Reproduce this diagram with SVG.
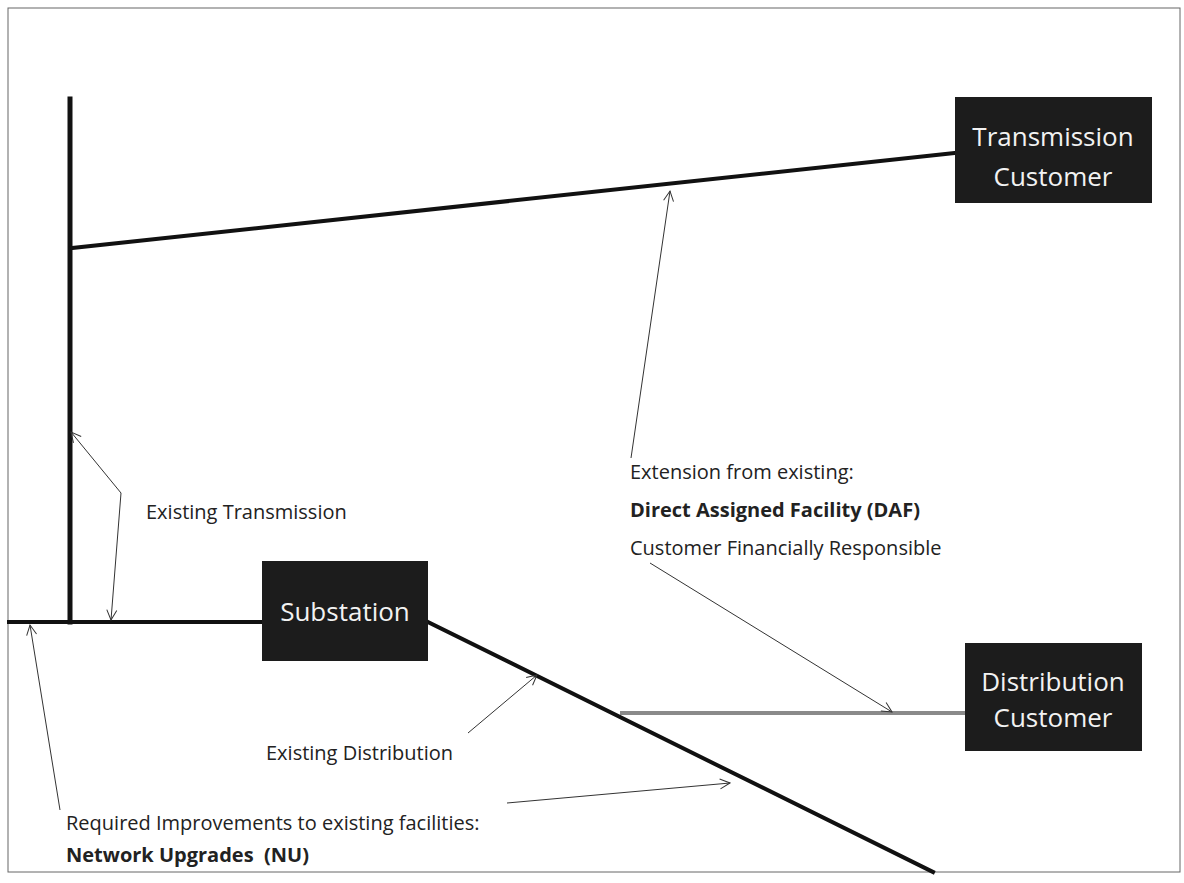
<svg xmlns="http://www.w3.org/2000/svg" width="1184" height="883" viewBox="0 0 1184 883">
<defs>
<marker id="ah" viewBox="0 0 12 12" refX="11" refY="6" markerWidth="12" markerHeight="12" markerUnits="userSpaceOnUse" orient="auto-start-reverse">
<path d="M1,1 L11,6 L1,11" fill="none" stroke="#333" stroke-width="1"/>
</marker>
<style>
.box{fill:#1c1c1c;}
.bt{font-family:"Open Sans","Noto Sans",sans-serif;font-size:26px;fill:#f2f2f2;text-anchor:middle;}
.lb{font-family:"Open Sans","Noto Sans",sans-serif;font-size:20px;fill:#222;}
.b{font-weight:bold;}
.ln{stroke:#111;stroke-width:4;fill:none;stroke-linecap:square;}
.ar{stroke:#333;stroke-width:1;fill:none;}
</style>
</defs>
<rect x="8" y="8" width="1172" height="864" fill="none" stroke="#666" stroke-width="1"/>
<g id="connectors">
<line class="ln" x1="70" y1="99" x2="70" y2="622" style="stroke-width:5"/>
<line class="ln" x1="9" y1="622" x2="262" y2="622"/>
<line class="ln" x1="72" y1="248" x2="955" y2="153"/>
<line class="ln" x1="428" y1="622" x2="933" y2="872"/>
<line x1="620" y1="713" x2="965" y2="713" stroke="#8a8a8a" stroke-width="4"/>
<polyline class="ar" points="71,432 121,493 111,620" marker-start="url(#ah)" marker-end="url(#ah)"/>
<line class="ar" x1="631" y1="458" x2="670" y2="191" marker-end="url(#ah)"/>
<line class="ar" x1="650" y1="563" x2="892" y2="712" marker-end="url(#ah)"/>
<line class="ar" x1="468" y1="733" x2="537" y2="675" marker-end="url(#ah)"/>
<line class="ar" x1="60" y1="810" x2="30" y2="625" marker-end="url(#ah)"/>
<line class="ar" x1="507" y1="803" x2="730" y2="783" marker-end="url(#ah)"/>
</g>
<g id="transmission-customer">
<rect class="box" x="955" y="97" width="197" height="106"/>
<text class="bt" x="1053" y="146">Transmission</text>
<text class="bt" x="1053" y="186">Customer</text>
</g>
<g id="substation">
<rect class="box" x="262" y="561" width="166" height="100"/>
<text class="bt" x="345" y="621">Substation</text>
</g>
<g id="distribution-customer">
<rect class="box" x="965" y="643" width="177" height="108"/>
<text class="bt" x="1053" y="691">Distribution</text>
<text class="bt" x="1053" y="727">Customer</text>
</g>
<g id="labels">
<text class="lb" x="146" y="519">Existing Transmission</text>
<text class="lb" x="630" y="479">Extension from existing:</text>
<text class="lb b" x="630" y="517">Direct Assigned Facility (DAF)</text>
<text class="lb" x="630" y="555">Customer Financially Responsible</text>
<text class="lb" x="266" y="760">Existing Distribution</text>
<text class="lb" x="66" y="830">Required Improvements to existing facilities:</text>
<text class="lb b" x="66" y="862" xml:space="preserve">Network Upgrades  (NU)</text>
</g>
</svg>
